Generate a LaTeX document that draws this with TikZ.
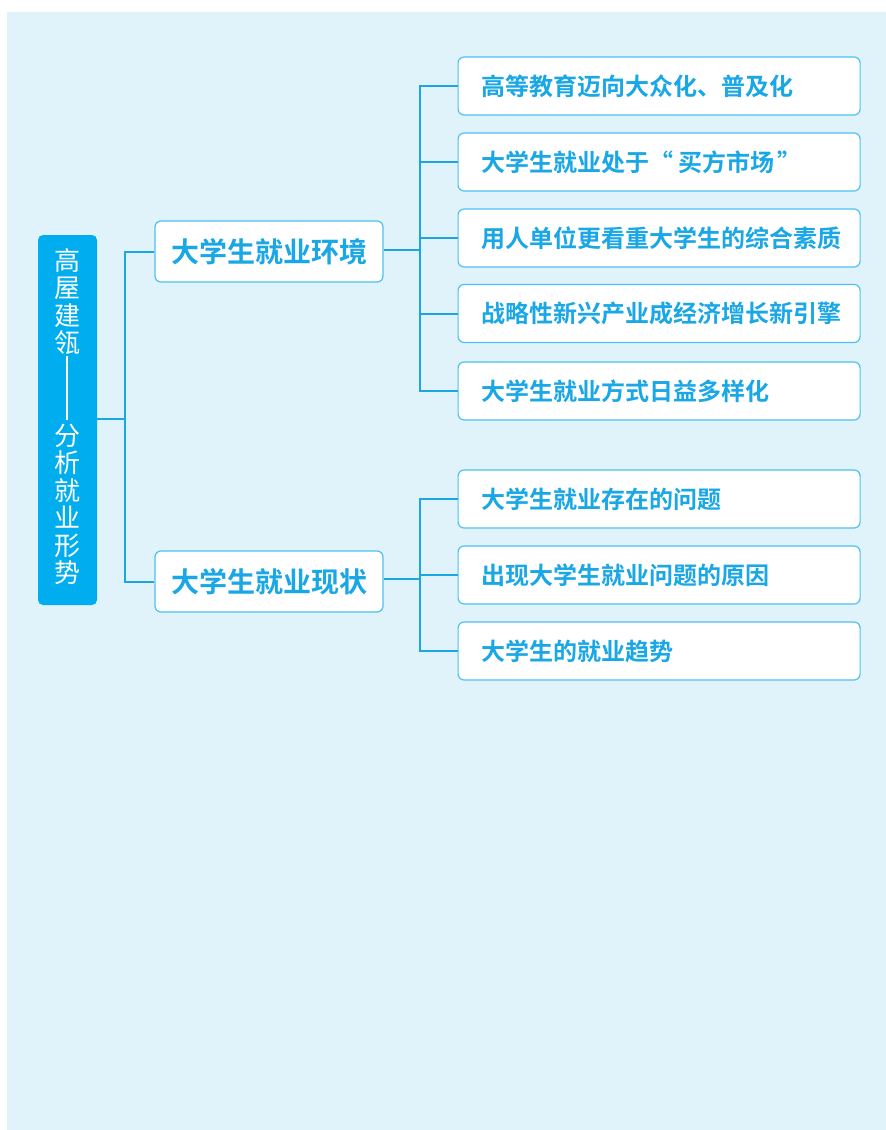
\documentclass[tikz,border=0pt]{standalone}
\usepackage{fontspec}
\newfontfamily\cjk{Noto Sans CJK SC}[BoldFont={Noto Sans CJK SC Bold}]
\definecolor{bgblue}{HTML}{E0F2FA}
\definecolor{rootblue}{HTML}{00AEEF}
\definecolor{linkblue}{HTML}{1AA7E2}
\definecolor{boxedge}{HTML}{4CC2F0}
\definecolor{txtblue}{HTML}{1AA7E6}
\tikzset{
  rootbox/.style={fill=rootblue, rounded corners=5pt, draw=none},
  roottxt/.style={text=white, font=\cjk\fontsize{26}{27.5}\selectfont, align=center, inner sep=0pt},
  midbox/.style={draw=boxedge, line width=1.2pt, fill=white, rounded corners=6pt,
    minimum width=228pt, minimum height=61pt, inner sep=0pt,
    text=txtblue, font=\cjk\bfseries\fontsize{28}{30}\selectfont},
  leafbox/.style={draw=boxedge, line width=1.2pt, fill=white, rounded corners=6pt,
    anchor=west, minimum height=58pt, inner xsep=23pt, inner ysep=0pt,
    text width=356pt, align=left,
    text=txtblue, font=\cjk\bfseries\fontsize{24}{26}\selectfont},
  link/.style={draw=linkblue, line width=2pt}
}
\begin{document}
\begin{tikzpicture}[x=1pt,y=-1pt]
\useasboundingbox (0,0) rectangle (886,1130);
\fill[white] (0,0) rectangle (886,1130);
\fill[bgblue] (7,12) rectangle (886,1130);
% root
\node[rootbox, minimum width=59pt, minimum height=370pt, inner sep=0pt] (root) at (67.5,420) {};
\node[roottxt, anchor=north] (rtop) at (67,248) {高\\屋\\建\\瓴};
\node[roottxt, anchor=south] (rbot) at (67,585) {分\\析\\就\\业\\形\\势};
\draw[white, line width=1.4pt] ([yshift=-1pt]rtop.south) -- ([yshift=4pt]rbot.north);
% level 1
\node[midbox] (env) at (269,251.5) {大学生就业环境};
\node[midbox] (cur) at (269,581.5) {大学生就业现状};
% leaves
\node[leafbox] (a1) at (457.5,86) {高等教育迈向大众化、普及化};
\node[leafbox] (a2) at (457.5,162) {大学生就业处于“\hspace{5pt}买方市场\hspace{3pt}”};
\node[leafbox] (a3) at (457.5,238) {用人单位更看重大学生的综合素质};
\node[leafbox] (a4) at (457.5,313.5) {战略性新兴产业成经济增长新引擎};
\node[leafbox] (a5) at (457.5,391) {大学生就业方式日益多样化};
\node[leafbox] (b1) at (457.5,499) {大学生就业存在的问题};
\node[leafbox] (b2) at (457.5,575) {出现大学生就业问题的原因};
\node[leafbox] (b3) at (457.5,651) {大学生的就业趋势};
% connectors
\coordinate (j0) at (125,419);
\draw[link] (root.east |- j0) -- (j0);
\draw[link] (j0) |- (env.west);
\draw[link] (j0) |- (cur.west);
\coordinate (j1) at (420,250);
\draw[link] (env.east |- j1) -- (j1);
\foreach \n in {a1,a2,a3,a4,a5}{\draw[link] (j1) |- (\n.west);}
\coordinate (j2) at (420,579);
\draw[link] (cur.east |- j2) -- (j2);
\foreach \n in {b1,b2,b3}{\draw[link] (j2) |- (\n.west);}
\end{tikzpicture}
\end{document}
